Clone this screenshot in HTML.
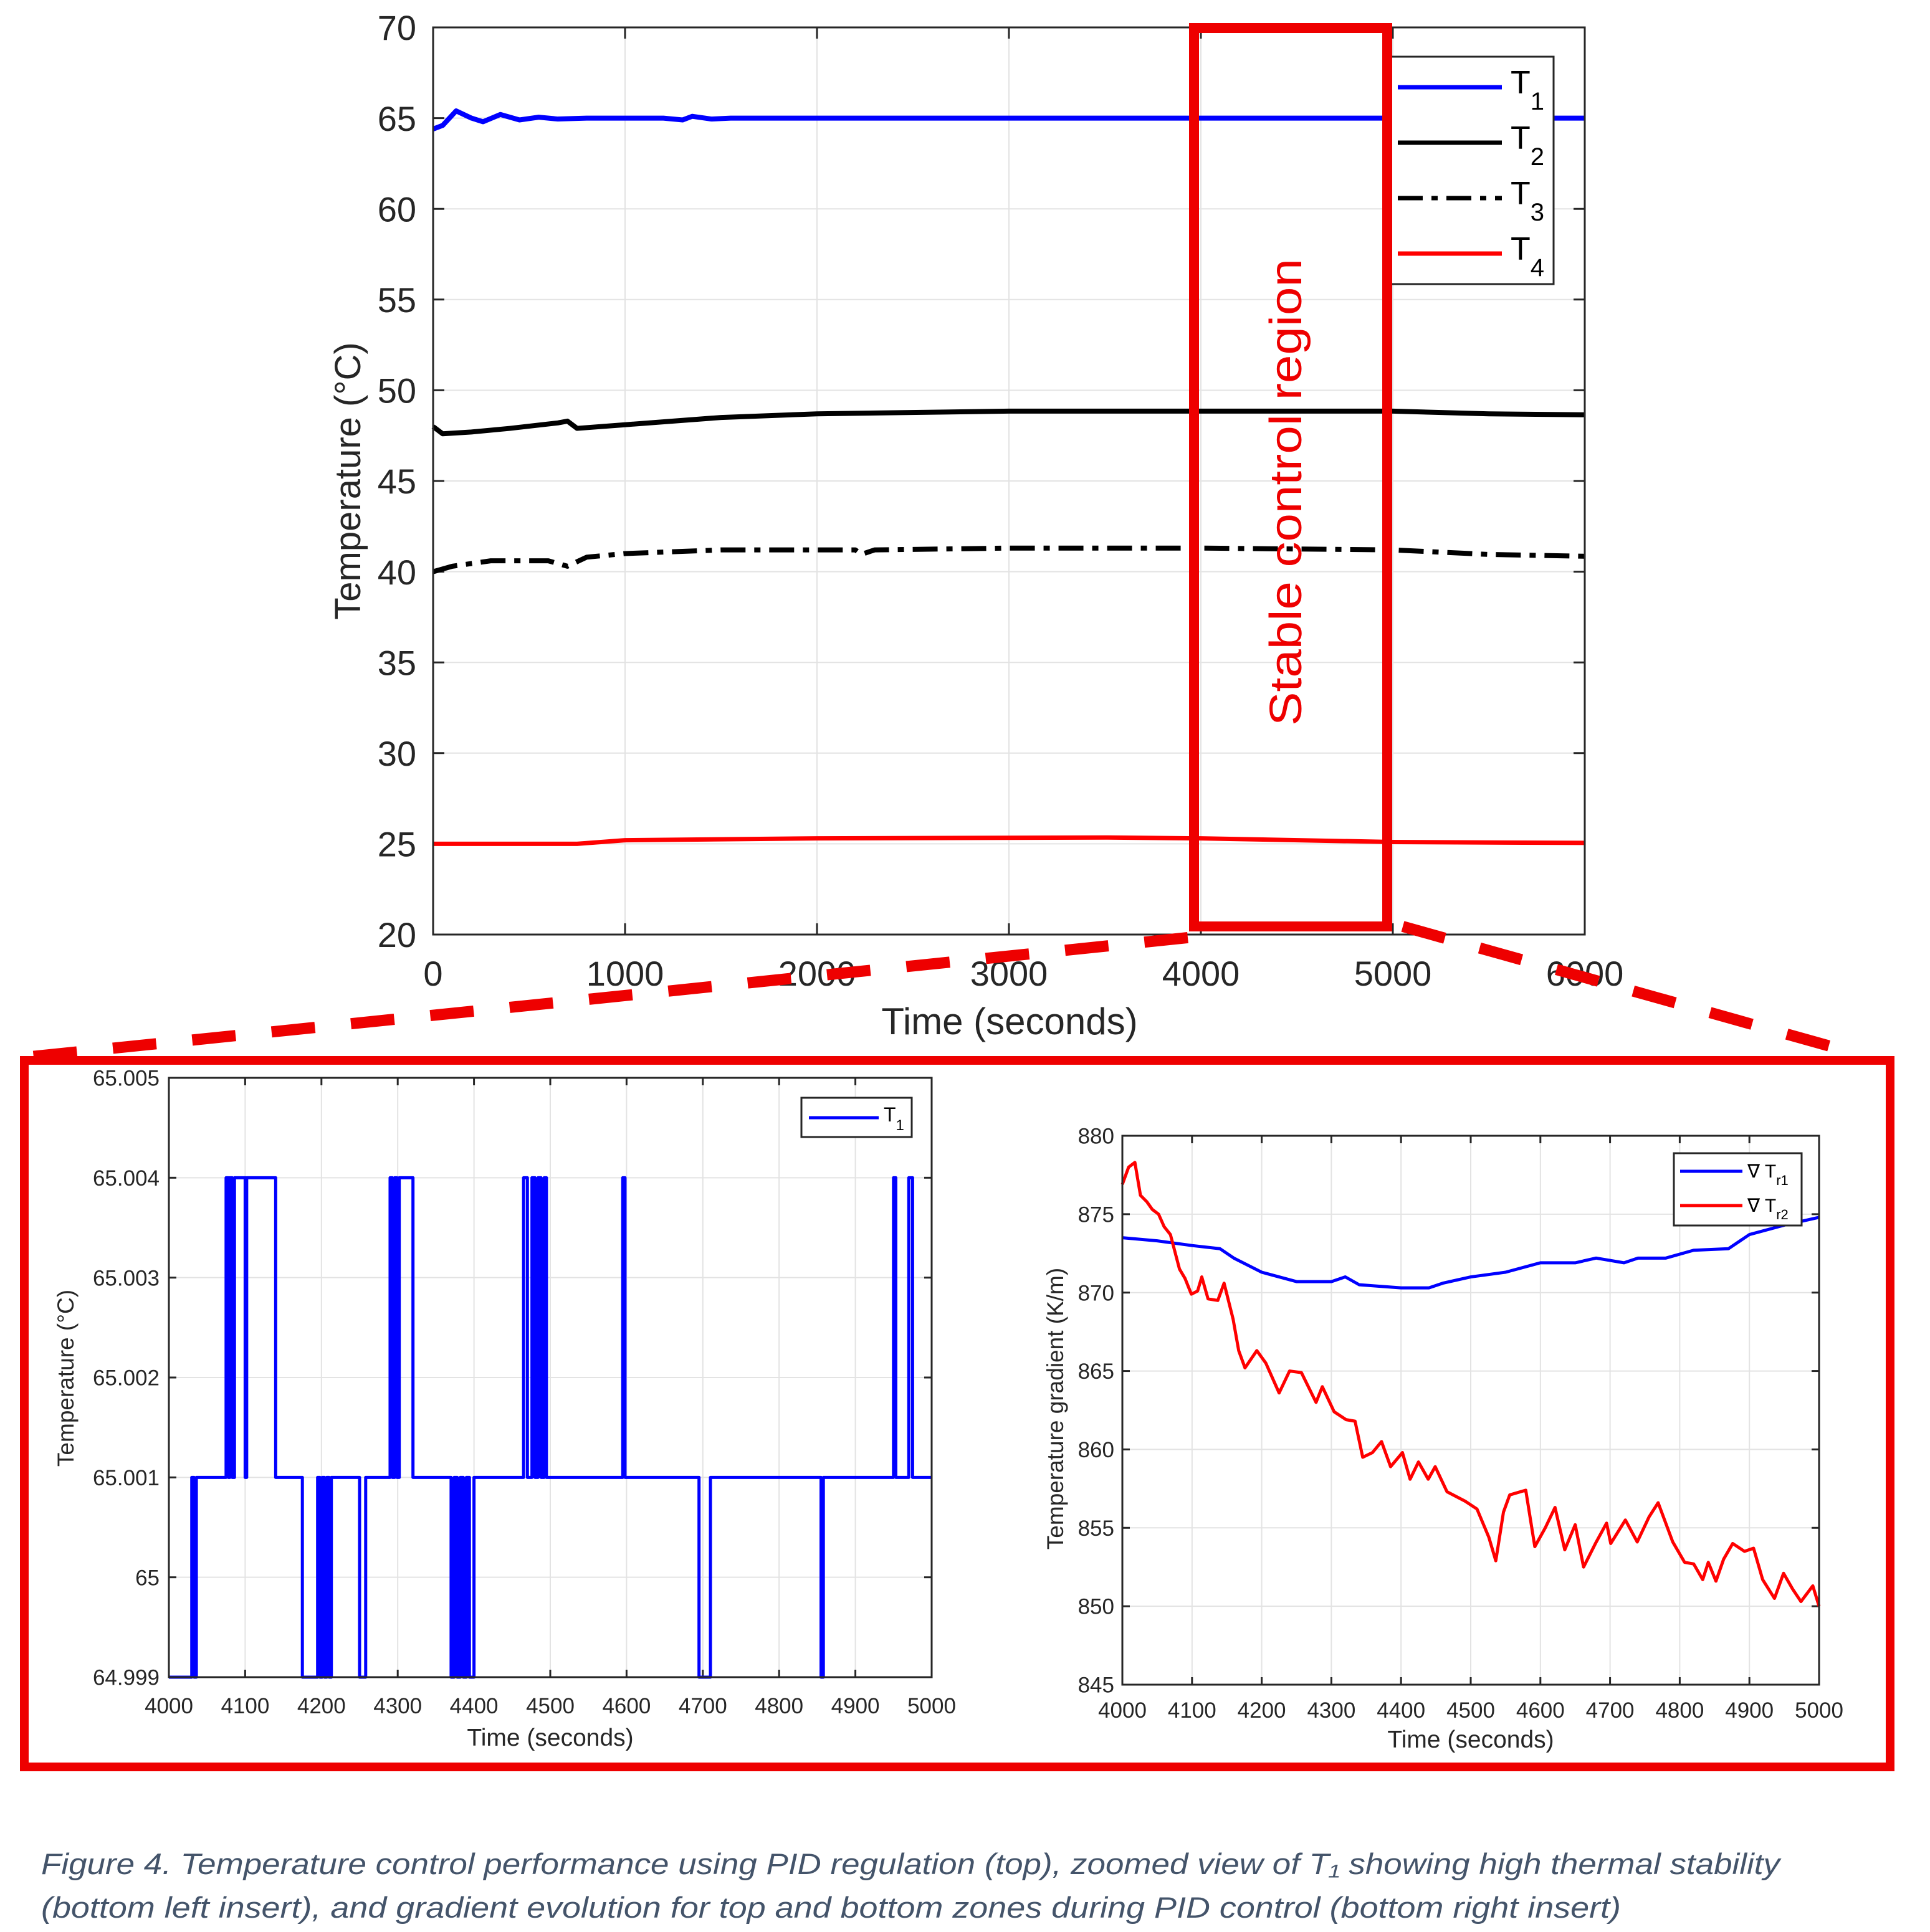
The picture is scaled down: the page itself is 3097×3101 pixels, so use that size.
<!DOCTYPE html>
<html><head><meta charset="utf-8"><style>
html,body{margin:0;padding:0;background:#fff;}
svg{display:block;font-family:"Liberation Sans",sans-serif;}
</style></head><body>
<svg id="fig" width="3097" height="3101" viewBox="0 0 3097 3101" xmlns="http://www.w3.org/2000/svg">
<g id="top"></g>
<g id="bl"></g>
<g id="br"></g>
<g id="ann">
  <line x1="1906" y1="1505" x2="40" y2="1697" stroke="#ee0000" stroke-width="18" stroke-dasharray="70,58"/>
  <line x1="2251" y1="1487" x2="2975" y2="1690" stroke="#ee0000" stroke-width="18" stroke-dasharray="70,58"/>
  <rect x="1916" y="45" width="310" height="1442" fill="none" stroke="#ee0000" stroke-width="16"/>
  <text transform="translate(2088,790) rotate(-90)" text-anchor="middle" font-size="72" fill="#ee0000" textLength="750" lengthAdjust="spacingAndGlyphs">Stable control region</text>
  <rect x="39" y="1702" width="2994" height="1134" fill="none" stroke="#ee0000" stroke-width="14"/>
  <text x="66" y="3008" font-size="47" font-style="italic" fill="#44546a" textLength="2790" lengthAdjust="spacingAndGlyphs">Figure 4.  Temperature control performance using PID regulation (top), zoomed view of T₁ showing high thermal stability</text>
  <text x="66" y="3078" font-size="47" font-style="italic" fill="#44546a" textLength="2535" lengthAdjust="spacingAndGlyphs">(bottom left insert), and  gradient evolution for top and bottom zones during PID control (bottom right insert)</text>
</g>
</svg>
<script>
// ---- top chart data ----
const t1T=[0,50,120,200,260,350,450,550,650,800,1200,1300,1350,1450,1550,6000];
const t1V=[64.4,64.6,65.4,65.0,64.8,65.2,64.9,65.05,64.95,65.0,65.0,64.9,65.1,64.95,65.0,65.0];
const t2T=[0,50,200,400,650,700,750,1000,1500,2000,3000,4000,5000,5500,6000];
const t2V=[48.0,47.6,47.7,47.9,48.2,48.3,47.9,48.1,48.5,48.7,48.85,48.85,48.85,48.7,48.65];
const t3T=[0,100,300,600,700,800,1000,1500,2200,2230,2300,3000,4000,5000,5500,6000];
const t3V=[40.0,40.3,40.6,40.6,40.3,40.8,41.0,41.2,41.2,40.95,41.2,41.3,41.3,41.2,40.95,40.85];
const t4T=[0,750,1000,2000,3500,4000,5000,6000];
const t4V=[25.0,25.0,25.2,25.3,25.35,25.3,25.1,25.05];
const topXTicks=[0,1000,2000,3000,4000,5000,6000];
const topYTicks=[20,25,30,35,40,45,50,55,60,65,70];
// ---- bottom-left data (step series) ----
const zT=[4000,4030,4033,4036,4075,4078,4080,4083,4086,4090,4098,4100,4102,4140,4175,4195,4198,4201,4204,4207,4210,4213,4250,4258,4290,4293,4296,4299,4302,4305,4320,4370,4374,4378,4382,4386,4390,4394,4400,4465,4470,4476,4480,4484,4488,4492,4495,4595,4598,4695,4710,4855,4858,4950,4953,4970,4975,5000];
const zV=[64.999,65.001,64.999,65.001,65.004,65.001,65.004,65.001,65.004,65.004,65.004,65.001,65.004,65.001,64.999,65.001,64.999,65.001,64.999,65.001,64.999,65.001,64.999,65.001,65.004,65.001,65.004,65.001,65.004,65.004,65.001,64.999,65.001,64.999,65.001,64.999,65.001,64.999,65.001,65.004,65.001,65.004,65.001,65.004,65.001,65.004,65.001,65.004,65.001,64.999,65.001,64.999,65.001,65.004,65.001,65.004,65.001,65.001];
const blXTicks=[4000,4100,4200,4300,4400,4500,4600,4700,4800,4900,5000];
const blYTicks=[64.999,65,65.001,65.002,65.003,65.004,65.005];
const blYLabels=["64.999","65","65.001","65.002","65.003","65.004","65.005"];
// ---- bottom-right data ----
const g1T=[4000,4050,4100,4140,4160,4200,4250,4300,4320,4340,4400,4440,4460,4500,4550,4600,4650,4680,4720,4740,4780,4820,4870,4900,4950,5000];
const g1V=[873.5,873.3,873.0,872.8,872.2,871.3,870.7,870.7,871.0,870.5,870.3,870.3,870.6,871.0,871.3,871.9,871.9,872.2,871.9,872.2,872.2,872.7,872.8,873.7,874.3,874.8];
const g2T=[4000,4009,4018,4026,4035,4043,4052,4060,4069,4082,4090,4099,4108,4114,4123,4137,4146,4159,4167,4176,4193,4206,4225,4240,4257,4278,4287,4304,4321,4334,4345,4359,4372,4385,4402,4413,4425,4439,4449,4466,4492,4509,4526,4536,4547,4556,4579,4592,4607,4621,4635,4650,4662,4679,4695,4701,4722,4739,4756,4769,4790,4807,4820,4833,4841,4852,4863,4876,4893,4906,4919,4936,4949,4962,4974,4991,5000];
const g2V=[876.9,878.0,878.3,876.2,875.8,875.3,875.0,874.2,873.7,871.5,870.9,869.9,870.1,871.0,869.6,869.5,870.6,868.3,866.3,865.2,866.3,865.5,863.6,865.0,864.9,863.0,864.0,862.4,861.9,861.8,859.5,859.8,860.5,858.9,859.8,858.1,859.2,858.1,858.9,857.3,856.7,856.2,854.4,852.9,856.0,857.1,857.4,853.8,855.0,856.3,853.6,855.2,852.5,854.0,855.3,854.0,855.5,854.1,855.7,856.6,854.1,852.8,852.7,851.7,852.8,851.6,853.0,854.0,853.5,853.7,851.7,850.5,852.1,851.1,850.3,851.3,850.0];
const brXTicks=[4000,4100,4200,4300,4400,4500,4600,4700,4800,4900,5000];
const brYTicks=[845,850,855,860,865,870,875,880];

const NS="http://www.w3.org/2000/svg";
function mk(parent,tag,attrs,txt){const e=document.createElementNS(NS,tag);for(const k in attrs)e.setAttribute(k,attrs[k]);if(txt!==undefined)e.textContent=txt;parent.appendChild(e);return e;}
function scale(d0,d1,r0,r1){return v=>r0+(v-d0)*(r1-r0)/(d1-d0);}

function axes(g,o){
  const X=scale(o.xd[0],o.xd[1],o.L,o.R),Y=scale(o.yd[0],o.yd[1],o.B,o.T);
  mk(g,'rect',{x:o.L,y:o.T,width:o.R-o.L,height:o.B-o.T,fill:'#fff'});
  o.xt.forEach(v=>{const l=mk(g,'line',{x1:X(v),x2:X(v),y1:o.T,y2:o.B,stroke:'#e3e3e3','stroke-width':2});});
  o.yt.forEach(v=>{const l=mk(g,'line',{x1:o.L,x2:o.R,y1:Y(v),y2:Y(v),stroke:'#e3e3e3','stroke-width':2});});
  const tk=o.tick;
  o.xt.forEach(v=>{
    mk(g,'line',{x1:X(v),x2:X(v),y1:o.B,y2:o.B-tk,stroke:'#262626','stroke-width':3});
    mk(g,'line',{x1:X(v),x2:X(v),y1:o.T,y2:o.T+tk,stroke:'#262626','stroke-width':3});
    const t=mk(g,'text',{x:X(v),y:o.xly,'text-anchor':'middle','font-size':o.fs,fill:'#262626'},String(v));
    
  });
  o.yt.forEach((v,i)=>{
    mk(g,'line',{x1:o.L,x2:o.L+tk,y1:Y(v),y2:Y(v),stroke:'#262626','stroke-width':3});
    mk(g,'line',{x1:o.R,x2:o.R-tk,y1:Y(v),y2:Y(v),stroke:'#262626','stroke-width':3});
    const t=mk(g,'text',{x:o.ylx,y:Y(v)+o.fs*0.36,'text-anchor':'end','font-size':o.fs,fill:'#262626'},o.yl?o.yl[i]:String(v));
    
  });
  return {X,Y};
}
function frame(g,o){const r=mk(g,'rect',{x:o.L,y:o.T,width:o.R-o.L,height:o.B-o.T,fill:'none',stroke:'#262626','stroke-width':3});}
function line(g,X,Y,T,V,attrs,name,step){
  let d='';T.forEach((t,i)=>{if(i===0)d+='M'+X(t)+','+Y(V[i]);else{if(step)d+='L'+X(t)+','+Y(V[i-1]);d+='L'+X(t)+','+Y(V[i]);}});
  const p=mk(g,'path',Object.assign({d:d,fill:'none','stroke-linejoin':'round'},attrs));
  return p;
}
function label(g,x,y,txt,fs,rot,name){const t=mk(g,'text',{x:0,y:0,transform:'translate('+x+','+y+')'+(rot?' rotate(-90)':''),'text-anchor':'middle','font-size':fs,fill:'#262626'},txt);}

// top
(function(){
  const g=document.getElementById('top');
  const o={L:695,R:2543,T:44,B:1500,xd:[0,6000],yd:[20,70],xt:topXTicks,yt:topYTicks,tick:18,fs:56,xly:1582,ylx:668};
  const {X,Y}=axes(g,o);
  line(g,X,Y,t4T,t4V,{stroke:'#ff0000','stroke-width':7},'series-t4');
  line(g,X,Y,t3T,t3V,{stroke:'#000','stroke-width':8,'stroke-dasharray':'40,14,10,14'},'series-t3');
  line(g,X,Y,t2T,t2V,{stroke:'#000','stroke-width':8},'series-t2');
  line(g,X,Y,t1T,t1V,{stroke:'#0000ff','stroke-width':8},'series-t1');
  frame(g,o);
  label(g,578,772,'Temperature (°C)',58,true,'y-axis-title');
  label(g,1620,1660,'Time (seconds)',60,false,'x-axis-title');
  const lg=mk(g,'g',{});
  mk(lg,'rect',{x:2228,y:91,width:265,height:365,fill:'#fff',stroke:'#262626','stroke-width':3});
  const items=[['#0000ff',null,'1'],['#000',null,'2'],['#000','40,14,10,14','3'],['#ff0000',null,'4']];
  items.forEach((it,i)=>{const y=140+i*89;
    const a={x1:2243,x2:2410,y1:y,y2:y,stroke:it[0],'stroke-width':7};if(it[1])a['stroke-dasharray']=it[1];
    const l=mk(lg,'line',a);
    const t=mk(lg,'text',{x:2424,y:y+10,'font-size':52,fill:'#000'});
    t.appendChild(document.createTextNode('T'));mk(t,'tspan',{dy:26,'font-size':40},it[2]);
  });
})();
// bottom left
(function(){
  const g=document.getElementById('bl');
  const o={L:271,R:1495,T:1730,B:2692,xd:[4000,5000],yd:[64.999,65.005],xt:blXTicks,yt:blYTicks,yl:blYLabels,tick:12,fs:35,xly:2750,ylx:256};
  const {X,Y}=axes(g,o);
  line(g,X,Y,zT,zV,{stroke:'#0000ff','stroke-width':5},'series-t1-zoom',true);
  frame(g,o);
  label(g,118,2212,'Temperature (°C)',37,true,'y-axis-title');
  label(g,883,2802,'Time (seconds)',39,false,'x-axis-title');
  const lg=mk(g,'g',{});
  mk(lg,'rect',{x:1286,y:1762,width:177,height:63,fill:'#fff',stroke:'#262626','stroke-width':3});
  mk(lg,'line',{x1:1298,x2:1410,y1:1794,y2:1794,stroke:'#0000ff','stroke-width':5});
  const t=mk(lg,'text',{x:1418,y:1800,'font-size':32,fill:'#000'});t.appendChild(document.createTextNode('T'));mk(t,'tspan',{dy:14,'font-size':24},'1');
})();
// bottom right
(function(){
  const g=document.getElementById('br');
  const o={L:1801,R:2919,T:1823,B:2704,xd:[4000,5000],yd:[845,880],xt:brXTicks,yt:brYTicks,tick:12,fs:35,xly:2757,ylx:1788};
  const {X,Y}=axes(g,o);
  line(g,X,Y,g1T,g1V,{stroke:'#0000ff','stroke-width':5},'series-grad-tr1');
  line(g,X,Y,g2T,g2V,{stroke:'#ff0000','stroke-width':5},'series-grad-tr2');
  frame(g,o);
  label(g,1706,2261,'Temperature gradient (K/m)',37,true,'y-axis-title');
  label(g,2360,2805,'Time (seconds)',39,false,'x-axis-title');
  const lg=mk(g,'g',{});
  mk(lg,'rect',{x:2686,y:1851,width:205,height:116,fill:'#fff',stroke:'#262626','stroke-width':3});
  [['#0000ff','r1',1880],['#ff0000','r2',1935]].forEach(it=>{
    mk(lg,'line',{x1:2696,x2:2796,y1:it[2],y2:it[2],stroke:it[0],'stroke-width':5});
    const t=mk(lg,'text',{x:2804,y:it[2]+10,'font-size':30,fill:'#000'});t.appendChild(document.createTextNode('∇ T'));mk(t,'tspan',{dy:12,'font-size':22},it[1]);
  });
})();
</script>
</body></html>
